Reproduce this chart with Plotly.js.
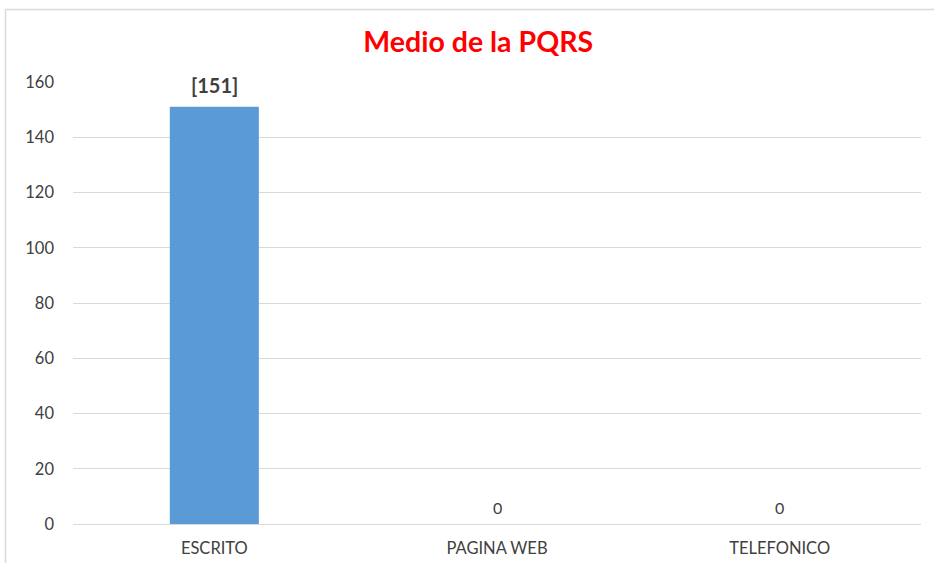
<!DOCTYPE html>
<html>
<head>
<meta charset="utf-8">
<script src="https://cdn.plot.ly/plotly-3.0.1.min.js"></script>
<style>html,body{margin:0;padding:0;background:#fff;}#chart{width:934px;height:563px;}</style>
</head>
<body>
<div id="chart"></div>
<script>
const categories = ["ESCRITO", "PAGINA WEB", "TELEFONICO"];
const values = [151, 0, 0];
const labels = ["<b>[151]</b>", "0", "0"];
const yTicks = [0, 20, 40, 60, 80, 100, 120, 140, 160];

const W = 934, H = 563;
const m = {l: 73, r: 13, t: 82, b: 39};
const pw = W - m.l - m.r, ph = H - m.t - m.b;
const px = v => (v - m.l) / pw;
const py = v => 1 - (v - m.t) / ph;
const FONT = "Lato, 'Open Sans', sans-serif";

const trace = {
  type: "bar",
  x: categories,
  y: values,
  marker: {color: "#5b9bd5"},
  hoverinfo: "x+y"
};

const annotations = categories.map((c, i) => ({
  x: c, y: values[i], xref: "x", yref: "y",
  text: labels[i], showarrow: false,
  yanchor: "middle", yshift: values[i] > 0 ? 22 : 17,
  font: {family: FONT, size: values[i] > 0 ? 20 : 16, color: "#404040"}
}));

const layout = {
  width: W, height: H,
  margin: m,
  paper_bgcolor: "#fff",
  plot_bgcolor: "#fff",
  showlegend: false,
  bargap: 0.685,
  font: {family: FONT, color: "#595959", size: 16},
  title: {text: "<b>Medio de la PQRS</b>", font: {size: 28.5, color: "#ff0000", family: FONT}, x: 0.512, xanchor: "center", y: 1 - 42 / H, yanchor: "middle"},
  xaxis: {
    type: "category",
    showgrid: false,
    showline: true, linecolor: "#d9d9d9", linewidth: 1,
    ticks: "", tickfont: {size: 16.5, color: "#404040"}, ticklabelstandoff: 9
  },
  yaxis: {
    range: [0, 160],
    tickvals: yTicks,
    ticktext: yTicks.map(String),
    showgrid: true, gridcolor: "#d9d9d9", gridwidth: 1,
    zeroline: false, showline: false,
    ticks: "", tickfont: {size: 16.5, color: "#404040"}, ticklabelstandoff: 18
  },
  annotations: annotations,
  shapes: [
    {type: "line", xref: "paper", yref: "paper", x0: px(5.5), x1: px(5.5), y0: py(9.5), y1: py(570), line: {color: "#d9d9d9", width: 1.5}},
    {type: "line", xref: "paper", yref: "paper", x0: px(5.5), x1: px(940), y0: py(9.5), y1: py(9.5), line: {color: "#d9d9d9", width: 1.5}}
  ]
};

Plotly.newPlot("chart", [trace], layout, {displayModeBar: false, staticPlot: true});
</script>
</body>
</html>
